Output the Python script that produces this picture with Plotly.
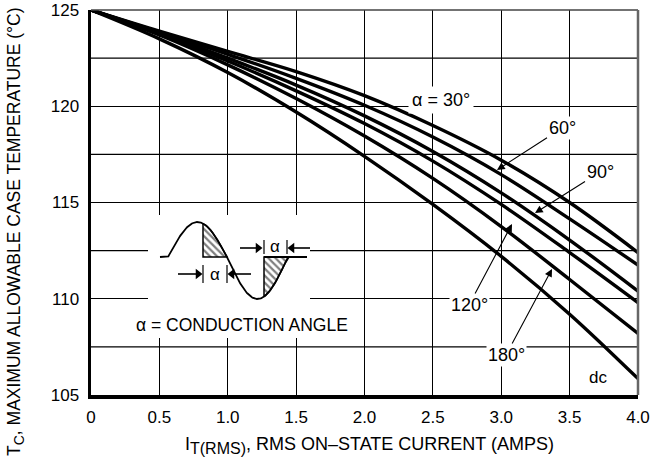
import numpy as np
import plotly.graph_objects as go

# ---------------- data ----------------
current = [0, 0.5, 1.0, 1.5, 2.0, 2.5, 3.0, 3.5, 4.0]
tc_30 = [125, 123.9, 122.85, 121.8, 120.55, 119.0, 117.2, 115.0, 112.4]
tc_60 = [125, 123.85, 122.7, 121.45, 120.05, 118.4, 116.45, 114.15, 111.75]
tc_90 = [125, 123.8, 122.5, 121.1, 119.5, 117.65, 115.5, 113.05, 110.4]
tc_120 = [125, 123.75, 122.35, 120.8, 119.1, 117.15, 114.9, 112.4, 109.8]
tc_180 = [125, 123.7, 122.15, 120.4, 118.45, 116.25, 113.75, 111.0, 108.2]
tc_dc = [125, 123.5, 121.75, 119.7, 117.4, 114.9, 112.2, 109.2, 105.85]
series = [tc_30, tc_60, tc_90, tc_120, tc_180, tc_dc]

x_ticks = [0, 0.5, 1.0, 1.5, 2.0, 2.5, 3.0, 3.5, 4.0]
x_ticklabels = ["0", "0.5", "1.0", "1.5", "2.0", "2.5", "3.0", "3.5", "4.0"]
y_ticks = [105, 110, 115, 120, 125]
y_ticklabels = ["105", "110", "115", "120", "125"]
y_half_grid = [107.5, 112.5, 117.5, 122.5]

# ---------------- layout geometry ----------------
W, H = 652, 473
ML, MR, MT, MB = 91, 14, 10, 78
X0, X1 = 0.0, 4.0
Y0, Y1 = 105.0, 125.0
PW = W - ML - MR
PH = H - MT - MB


def dx(px):
    return X0 + (px - ML) / PW * (X1 - X0)


def dy(py):
    return Y1 - (py - MT) / PH * (Y1 - Y0)


FONT = "Liberation Sans, Arial, sans-serif"

fig = go.Figure()

for s in series:
    fig.add_trace(go.Scatter(x=current, y=s, mode="lines",
                             line=dict(color="black", width=3.4, shape="spline", smoothing=1.0),
                             hoverinfo="skip", showlegend=False))

# ---------------- inset waveform diagram (decoration) ----------------
base = 257


def wave(px):
    if px < 168:
        return base
    if px <= 227:
        return base - 35 * np.sin(np.pi * (px - 168) / 59)
    if px <= 288:
        return base + 42 * np.sin(np.pi * (px - 227) / 61)
    return base


xs = np.linspace(160, 307, 300)
ys = np.array([wave(v) for v in xs])
h1x = np.linspace(203, 227, 40)
h1y = np.array([wave(v) for v in h1x])
h2x = np.linspace(264, 288, 40)
h2y = np.array([wave(v) for v in h2x])
for hx, hy in [(h1x, h1y), (h2x, h2y)]:
    px_ = list(hx) + [hx[-1], hx[0], hx[0]]
    py_ = list(hy) + [base, base, hy[0]]
    fig.add_trace(go.Scatter(x=[dx(v) for v in px_], y=[dy(v) for v in py_], mode="lines", fill="toself",
                             fillpattern=dict(shape="\\", size=5, solidity=0.45, fgcolor="black", bgcolor="white"),
                             line=dict(color="black", width=1.5), hoverinfo="skip", showlegend=False))

fig.add_trace(go.Scatter(x=[dx(v) for v in xs], y=[dy(v) for v in ys], mode="lines",
                         line=dict(color="black", width=1.8), hoverinfo="skip", showlegend=False))
fig.add_trace(go.Scatter(x=[dx(264), dx(307)], y=[dy(base), dy(base)], mode="lines",
                         line=dict(color="black", width=1.8), hoverinfo="skip", showlegend=False))

# dimension arrows (line + triangle head)
for tipx, tipy, tailx in [(202, 274, 178), (228, 274, 251), (262, 248, 240), (288, 248, 310)]:
    fig.add_trace(go.Scatter(x=[dx(tailx), dx(tipx - (5 if tailx < tipx else -5))], y=[dy(tipy), dy(tipy)],
                             mode="lines", line=dict(color="black", width=1.6),
                             hoverinfo="skip", showlegend=False))
    fig.add_trace(go.Scatter(x=[dx(tipx - (4 if tailx < tipx else -4))], y=[dy(tipy)], mode="markers",
                             marker=dict(symbol="triangle-right" if tailx < tipx else "triangle-left",
                                         size=9, color="black"),
                             hoverinfo="skip", showlegend=False))

shapes = []
for gy in y_half_grid:
    shapes.append(dict(type="line", xref="paper", yref="y", x0=0, x1=1, y0=gy, y1=gy,
                       line=dict(color="black", width=1.2), layer="below"))
shapes.append(dict(type="rect", xref="x", yref="y", x0=dx(148), x1=dx(310), y0=dy(338), y1=dy(215),
                   fillcolor="white", line=dict(width=0), layer="between"))
for tx, ty0, ty1 in [(203, 265, 283), (227, 265, 283), (264, 240, 254), (287, 240, 254)]:
    shapes.append(dict(type="line", xref="x", yref="y", x0=dx(tx), x1=dx(tx), y0=dy(ty0), y1=dy(ty1),
                       line=dict(color="black", width=1.2)))
shapes.append(dict(type="line", xref="paper", yref="paper", x0=0, x1=1, y0=1, y1=1,
                   line=dict(color="#444", width=1.5)))
shapes.append(dict(type="line", xref="paper", yref="paper", x0=1, x1=1, y0=0, y1=1,
                   line=dict(color="#666", width=2.5)))

annotations = []
for lx, ly in [(215, 274), (275, 246)]:
    annotations.append(dict(x=dx(lx), y=dy(ly), xref="x", yref="y", text="α", showarrow=False,
                            font=dict(family=FONT, size=17, color="black")))

annotations.append(dict(x=dx(242), y=dy(325), xref="x", yref="y", text="α = CONDUCTION ANGLE",
                        showarrow=False, bgcolor="white", font=dict(family=FONT, size=17.5, color="black")))

annotations.append(dict(x=dx(441), y=dy(100), xref="x", yref="y", text="α = 30°", showarrow=False,
                        bgcolor="white", borderpad=3, font=dict(family=FONT, size=18, color="black")))
lab = dict(family=FONT, size=18, color="black")
for text, tx, ty, px_, py_ in [("60°", 562, 128, 497, 170), ("90°", 600, 172, 535, 213),
                                ("120°", 469, 305, 512, 224), ("180°", 506, 355, 552, 269)]:
    annotations.append(dict(x=dx(px_), y=dy(py_), xref="x", yref="y", ax=tx - px_, ay=ty - py_, text=text,
                            showarrow=True, arrowhead=2, arrowsize=1.4, arrowwidth=1.1, arrowcolor="black",
                            bgcolor="white", font=lab, standoff=0))
annotations.append(dict(x=dx(598), y=dy(377), xref="x", yref="y", text="dc", showarrow=False,
                        font=dict(family=FONT, size=17, color="black")))

annotations.append(dict(x=(15 - ML) / PW, y=1 - (232 - MT) / PH, xref="paper", yref="paper", textangle=-90,
                        text="T<sub><span style='font-size:14px'>C</span></sub>, MAXIMUM ALLOWABLE CASE TEMPERATURE (°C)",
                        showarrow=False, xanchor="center", yanchor="middle",
                        font=dict(family=FONT, size=17.5, color="black")))
annotations.append(dict(x=(369 - ML) / PW, y=-(445 - MT - PH) / PH, xref="paper", yref="paper",
                        text="I<sub><span style='font-size:16px'>T(RMS)</span></sub>, RMS ON–STATE CURRENT (AMPS)",
                        showarrow=False, xanchor="center", yanchor="middle",
                        font=dict(family=FONT, size=18, color="black")))

fig.update_layout(
    width=W, height=H,
    margin=dict(l=ML, r=MR, t=MT, b=MB, autoexpand=False),
    paper_bgcolor="white", plot_bgcolor="white",
    shapes=shapes, annotations=annotations,
    xaxis=dict(range=[X0, X1], tickvals=x_ticks, ticktext=x_ticklabels, showgrid=True, gridcolor="black",
               gridwidth=1.2, showline=True, linecolor="black", linewidth=3.5, zeroline=False, ticks="",
               automargin=False, ticklabelstandoff=4,
               tickfont=dict(family=FONT, size=17, color="black"), fixedrange=True),
    yaxis=dict(range=[Y0, Y1], tickvals=y_ticks, ticktext=y_ticklabels, showgrid=True, gridcolor="black",
               gridwidth=1.2, showline=True, linecolor="black", linewidth=3.5, zeroline=False, ticks="",
               automargin=False, ticklabelstandoff=5,
               tickfont=dict(family=FONT, size=17, color="black"), fixedrange=True),
    showlegend=False,
)

fig.write_html("out.html", config={"displayModeBar": False, "staticPlot": True},
               post_script="document.body.style.margin='0px';document.body.style.overflow='hidden';")
